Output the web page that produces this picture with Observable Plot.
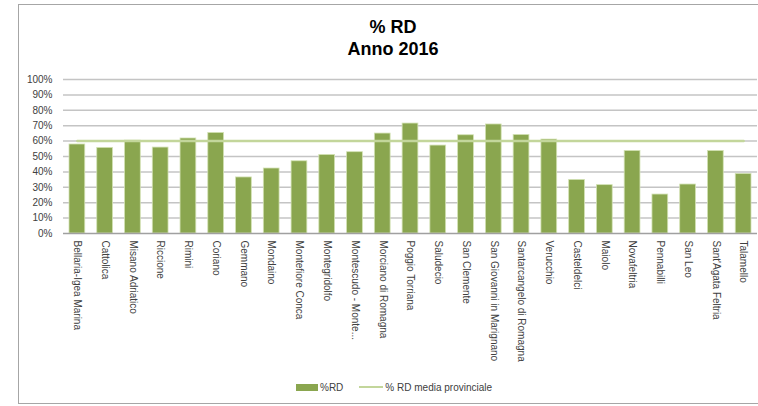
<!DOCTYPE html>
<html>
<head>
<meta charset="utf-8">
<script src="https://cdn.jsdelivr.net/npm/d3@7"></script>
<script src="https://cdn.jsdelivr.net/npm/@observablehq/plot@0.6"></script>
<style>
  html, body { margin: 0; padding: 0; background: #fff; }
  #wrap { position: relative; width: 758px; height: 406px; overflow: hidden; font-family: "Liberation Sans", Arial, sans-serif; }
  #frame { position: absolute; left: 18px; top: 4px; width: 800px; height: 400px; border: 1.5px solid #a6a6a6; box-sizing: border-box; }
  #title { position: absolute; left: 293px; width: 200px; top: 16px; text-align: center; font-weight: bold; font-size: 18px; line-height: 22px; color: #000; }
  #chart { position: absolute; left: 0; top: 0; }
  #legend { position: absolute; top: 380px; left: 296px; font-size: 10px; color: #404040; display: flex; align-items: center; height: 14px; }
  .sw-bar { width: 22px; height: 7px; background: #8aa64f; display: inline-block; margin-right: 2px; }
  .sw-line { width: 24px; height: 2.5px; background: #c3d69b; display: inline-block; margin-left: 16px; margin-right: 2px; }
</style>
</head>
<body>
<div id="wrap">
  <div id="frame"></div>
  <div id="chart"></div>
  <div id="title">% RD<br>Anno 2016</div>
  <div id="legend"><span class="sw-bar"></span><span>%RD</span><span class="sw-line"></span><span>% RD media provinciale</span></div>
</div>
<script>
const categories = [
  "Bellaria-Igea Marina", "Cattolica", "Misano Adriatico", "Riccione", "Rimini",
  "Coriano", "Gemmano", "Mondaino", "Montefiore Conca", "Montegridolfo",
  "Montescudo - Monte...", "Morciano di Romagna", "Poggio Torriana", "Saludecio", "San Clemente",
  "San Giovanni in Marignano", "Santarcangelo di Romagna", "Verucchio", "Casteldelci", "Maiolo",
  "Novafeltria", "Pennabilli", "San Leo", "Sant'Agata Feltria", "Talamello"
];
const rdValues = [
  57.8, 55.6, 60.3, 55.8, 61.7,
  65.3, 36.4, 42.2, 46.9, 51.0,
  52.8, 64.9, 71.4, 57.1, 63.8,
  70.8, 64.0, 61.0, 34.8, 31.4,
  53.6, 25.3, 31.8, 53.6, 38.7
];
const mediaProvinciale = 60.0;
const yTicks = [0, 10, 20, 30, 40, 50, 60, 70, 80, 90, 100];

const data = categories.map((c, i) => ({ name: c, rd: rdValues[i], media: mediaProvinciale }));

const chart = Plot.plot({
  width: 758,
  height: 406,
  marginLeft: 63,
  marginRight: 1,
  marginTop: 79,
  marginBottom: 173,
  style: { fontFamily: "Liberation Sans, Arial, sans-serif", fontSize: "10px", color: "#404040", background: "transparent" },
  x: { type: "band", domain: categories, padding: 0, round: false, label: null },
  y: { domain: [0, 100], label: null },
  marks: [
    Plot.ruleY(yTicks.filter(d => d > 0), { stroke: "#c4c4c4", strokeWidth: 1.5 }),
    Plot.barY(data, { x: "name", y: "rd", fill: "#8aa64f", stroke: "#d3e2b4", strokeWidth: 0.8, insetLeft: 6, insetRight: 6 }),
    Plot.ruleY([0], { stroke: "#a0a0a0", strokeWidth: 1.5 }),
    Plot.line(data, { x: "name", y: "media", stroke: "#c3d69b", strokeWidth: 2.5 }),
    Plot.axisY({ ticks: yTicks, tickFormat: d => d + "%", tickSize: 0, tickPadding: 11, fill: "#404040" }),
    Plot.axisX({ tickSize: 0, tickPadding: 7, tickRotate: 90, fill: "#404040" })
  ]
});
document.getElementById("chart").appendChild(chart);
</script>
</body>
</html>
